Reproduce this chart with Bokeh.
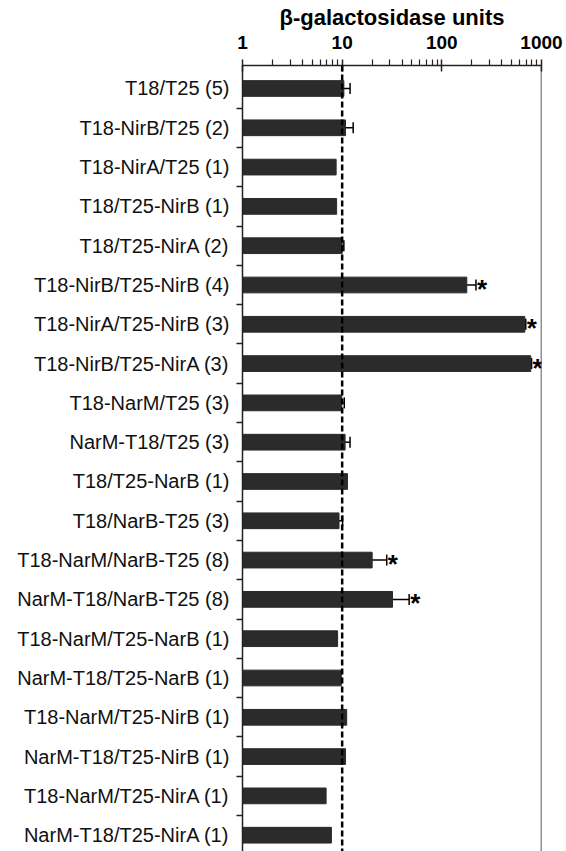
from bokeh.plotting import figure
from bokeh.models import (Range1d, FixedTicker, Span, Whisker, ColumnDataSource,
                          TeeHead, PrintfTickFormatter)
from bokeh.embed import file_html
from bokeh.resources import INLINE
from bokeh.core.properties import value

# ---- data ----
labels = [
    "T18/T25 (5)", "T18-NirB/T25 (2)", "T18-NirA/T25 (1)", "T18/T25-NirB (1)",
    "T18/T25-NirA (2)", "T18-NirB/T25-NirB (4)", "T18-NirA/T25-NirB (3)",
    "T18-NirB/T25-NirA (3)", "T18-NarM/T25 (3)", "NarM-T18/T25 (3)",
    "T18/T25-NarB (1)", "T18/NarB-T25 (3)", "T18-NarM/NarB-T25 (8)",
    "NarM-T18/NarB-T25 (8)", "T18-NarM/T25-NarB (1)", "NarM-T18/T25-NarB (1)",
    "T18-NarM/T25-NirB (1)", "NarM-T18/T25-NirB (1)", "T18-NarM/T25-NirA (1)",
    "NarM-T18/T25-NirA (1)",
]
values = [10.4, 10.8, 8.7, 8.8, 10.0, 178, 680, 780, 9.9, 10.7,
          11.3, 9.3, 20.0, 32.0, 9.0, 9.8, 11.1, 10.8, 6.9, 7.8]
errors = [1.6, 2.1, 0, 0, 0.4, 42, 15, 15, 0.6, 1.3,
          0, 0.8, 8.0, 15.0, 0, 0, 0, 0, 0, 0]
significant = [False, False, False, False, False, True, True, True, False, False,
               False, False, True, True, False, False, False, False, False, False]
x_ticks = [1, 10, 100, 1000]
x_minor = [2, 3, 4, 5, 6, 7, 8, 9, 20, 30, 40, 50, 60, 70, 80, 90,
           200, 300, 400, 500, 600, 700, 800, 900]
baseline = 10

FONT = "Liberation Sans"
n = len(labels)
ys = list(range(n))

p = figure(width=564, height=851, x_axis_type="log", x_axis_location="above",
           x_range=Range1d(1, 1000), y_range=Range1d(19.415, -0.585),
           output_backend="svg", toolbar_location=None,
           min_border_left=242, min_border_right=23, min_border_top=65,
           min_border_bottom=0)
p.outline_line_color = None
p.xgrid.visible = False
p.ygrid.visible = False

# x axis (top)
xa = p.xaxis[0]
xa.ticker = FixedTicker(ticks=x_ticks, minor_ticks=x_minor)
xa.formatter = PrintfTickFormatter(format="%d")
xa.axis_label = "β-galactosidase units"
xa.axis_label_text_font = FONT
xa.axis_label_text_font_style = "bold"
xa.axis_label_text_font_size = "22px"
xa.axis_label_standoff = 3
xa.major_label_text_font = FONT
xa.major_label_text_font_style = "bold"
xa.major_label_text_font_size = "19px"
xa.major_label_standoff = 11
xa.major_tick_out = 6
xa.major_tick_in = 6
xa.minor_tick_out = 6
xa.minor_tick_in = 0
xa.axis_line_width = 1.5
xa.major_tick_line_width = 1.5
xa.minor_tick_line_width = 1.2
xa.axis_line_color = "#222222"
xa.major_tick_line_color = "#222222"
xa.minor_tick_line_color = "#222222"
xa.major_label_text_color = "black"
xa.axis_label_text_color = "black"

# y axis (left) with labels at bar centres and ticks between rows
ya = p.yaxis[0]
ya.ticker = FixedTicker(ticks=ys, minor_ticks=[i + 0.5 for i in range(n - 1)])
ya.major_label_overrides = {i: lab for i, lab in enumerate(labels)}
ya.major_tick_out = 0
ya.major_tick_in = 0
ya.minor_tick_out = 6
ya.minor_tick_in = 0
ya.minor_tick_line_width = 1.5
ya.minor_tick_line_color = "#222222"
ya.axis_line_width = 1.5
ya.axis_line_color = "#222222"
ya.major_label_text_font = FONT
ya.major_label_text_font_size = "20px"
ya.major_label_text_color = "#111111"
ya.major_label_standoff = 7

# bars
p.hbar(y=ys, left=1, right=values, height=0.4, fill_color="#2b2b2b",
       line_color="#2b2b2b")

# error bars
eb_y = [y for y, e in zip(ys, errors) if e > 0]
eb_lo = [v - e for v, e in zip(values, errors) if e > 0]
eb_hi = [v + e for v, e in zip(values, errors) if e > 0]
eb_src = ColumnDataSource(dict(y=eb_y, lower=eb_lo, upper=eb_hi))
p.add_layout(Whisker(source=eb_src, base="y", lower="lower", upper="upper",
                     dimension="width", line_width=1.5, line_color="black",
                     upper_head=TeeHead(size=11, line_width=1.5, line_color="black"),
                     lower_head=TeeHead(size=11, line_width=1.5, line_color="black")))

# significance asterisks
st_x = [v + e for v, e, s in zip(values, errors, significant) if s]
st_y = [y for y, s in zip(ys, significant) if s]
p.text(x=st_x, y=st_y, text=["*"] * len(st_x), text_font=value(FONT),
       text_font_size="26px", text_font_style="bold", text_align="left",
       text_baseline="alphabetic", x_offset=1, y_offset=4, text_color="black")

# reference line at 10 and right frame line
p.add_layout(Span(location=baseline, dimension="height", line_dash="6 3",
                  line_width=2.5, line_color="black"))
p.add_layout(Span(location=x_ticks[-1], dimension="height", line_width=1.5,
                  line_color="#222222"))

open("out.html", "w").write(file_html(p, INLINE))
